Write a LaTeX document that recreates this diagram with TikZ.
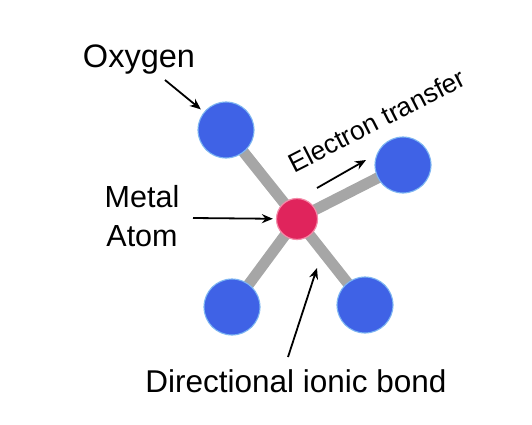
\documentclass[tikz,border=0pt]{standalone}
\usepackage{fontspec}
\setmainfont{Liberation Sans}
\usetikzlibrary{arrows.meta,backgrounds}

\definecolor{oxyblue}{HTML}{3F62E6}
\definecolor{oxyrim}{HTML}{7DB6F2}
\definecolor{metalred}{HTML}{E0245C}
\definecolor{metalrim}{HTML}{F38AA8}
\definecolor{bondgray}{HTML}{A6A6A6}

\begin{document}
\begin{tikzpicture}[x=1pt,y=1pt]
% Styles
\tikzset{
    oxygen/.style={circle,fill=oxyblue,draw=oxyrim,line width=1.1pt,minimum size=56pt,inner sep=0pt},
    metal/.style={circle,fill=metalred,draw=metalrim,line width=1.2pt,minimum size=41pt,inner sep=0pt},
    bond/.style={bondgray,line width=11pt},
    pointer/.style={-{Stealth[length=11pt,width=9pt]},line width=1.8pt},
    label/.style={font=\fontsize{31.5}{39}\selectfont}
}
\useasboundingbox (0,0) rectangle (532,424);
% Atoms
\node[metal] (M) at (297,205){};
\node[oxygen] (OA) at (226,294){};
\node[oxygen] (OB) at (403,259){};
\node[oxygen] (OC) at (232,117){};
\node[oxygen] (OD) at (365,119){};
% Bonds
\begin{scope}[on background layer]
\draw[bond] (M.center) -- (OA.center);
\draw[bond] (M.center) -- (OB.center);
\draw[bond] (M.center) -- (OC.center);
\draw[bond] (M.center) -- (OD.center);
\end{scope}
% Labels
\node[label,font=\fontsize{32.5}{39}\selectfont,anchor=base] (oxy) at (139,356){Oxygen};
\node[label,font=\fontsize{30.5}{39}\selectfont,align=center,anchor=base] (atom) at (142,178){Metal\\Atom};
\node[label,anchor=base] (ionic) at (296,32){Directional ionic bond};
\node[font=\fontsize{26.5}{30}\selectfont,anchor=base,rotate=27] (etrans) at (381,295){Electron transfer};
% Arrows
\coordinate (oxytail) at (165,344);
\coordinate (atomtail) at (193,206);
\coordinate (bondtail) at (288,67);
\coordinate (bondtip) at (317,156);
\coordinate (etail) at (317,236);
\coordinate (etip) at (366,264);
\draw[pointer,shorten >=4pt] (oxytail) -- (OA);
\draw[pointer,shorten >=3pt] (atomtail) -- (M);
\draw[pointer] (bondtail) -- (bondtip);
\draw[pointer] (etail) -- (etip);
\end{tikzpicture}
\end{document}
